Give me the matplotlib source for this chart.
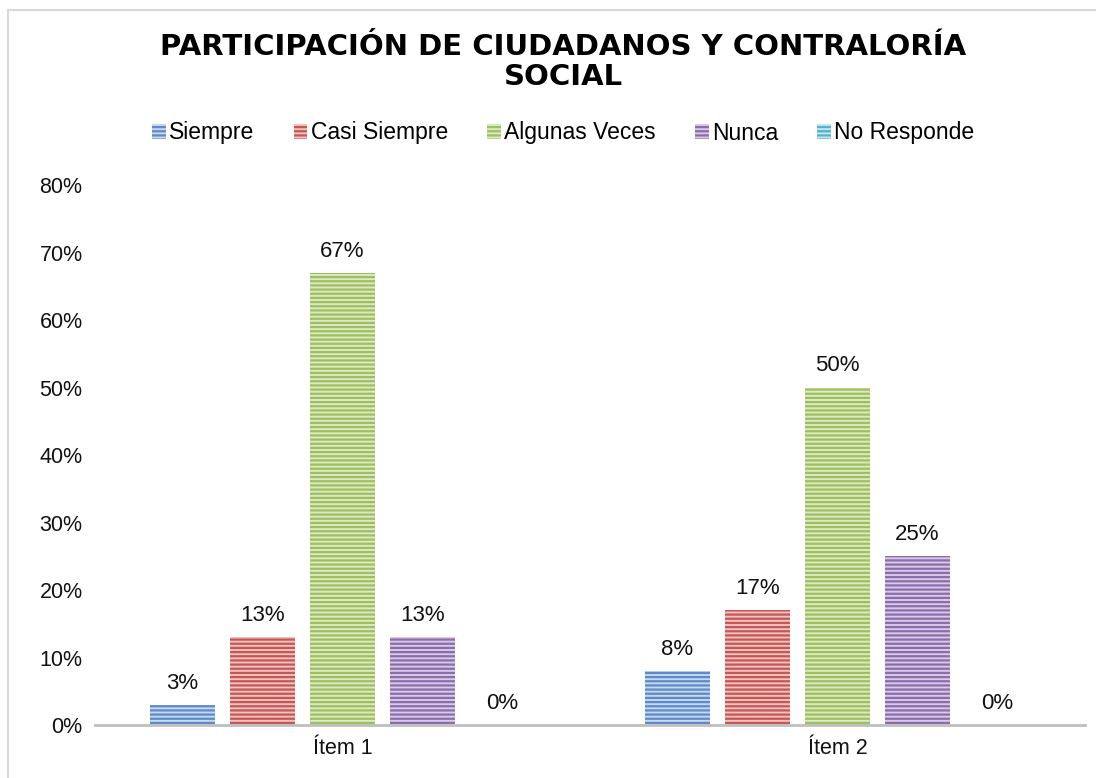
import matplotlib.pyplot as plt
from matplotlib.patches import Patch
from matplotlib.lines import Line2D
import numpy as np

plt.rcParams['font.family'] = ['Liberation Sans', 'DejaVu Sans']
plt.rcParams['hatch.linewidth'] = 1.6

# data
items = ["Ítem 1", "Ítem 2"]
series = ["Siempre", "Casi Siempre", "Algunas Veces", "Nunca", "No Responde"]
values = [
    [0.03, 0.08],
    [0.13, 0.17],
    [0.67, 0.50],
    [0.13, 0.25],
    [0.00, 0.00],
]
faces = ["#C9D8EC", "#EDC4C3", "#DDE9C6", "#D6CCE3", "#C8E6EF"]
hatches = ["#5B8BCB", "#C85652", "#9DC05C", "#8C6BB0", "#4FB2CE"]

fig = plt.figure(figsize=(10.96, 7.78), dpi=100)
ax = fig.add_axes([0.0867, 0.0681, 0.9033, 0.694])

# chart border (only top and left edges are inside the picture)
W, H = 1096, 778
fig.add_artist(Line2D([8 / W, 8 / W], [0, 1 - 10 / H], color="#D9D9D9", lw=1.5))
fig.add_artist(Line2D([8 / W, 1], [1 - 10 / H, 1 - 10 / H], color="#D9D9D9", lw=1.5))

x = np.arange(len(items))
step = 0.1616
width = 0.133
for i, name in enumerate(series):
    pos = x + (i - 2) * step
    bars = ax.bar(pos, values[i], width, color=faces[i], edgecolor=hatches[i],
                  hatch="----", linewidth=0, label=name)
    for b, v in zip(bars, values[i]):
        ax.annotate(f"{v:.0%}", (b.get_x() + b.get_width() / 2, v),
                    xytext=(0, 8), textcoords="offset points",
                    ha="center", va="bottom", fontsize=16, color="#111111")

ax.set_xlim(-0.5, 1.5)
ax.set_ylim(0, 0.8)
ticks = np.arange(0, 0.81, 0.1)
ax.set_yticks(ticks)
ax.set_yticklabels([f"{int(round(t * 100))}%" for t in ticks])
ax.set_xticks(x)
ax.set_xticklabels(items)
ax.tick_params(length=0, labelsize=15.5, colors="#111111", pad=9)
for s in ["top", "right", "left"]:
    ax.spines[s].set_visible(False)
ax.spines["bottom"].set_color("#BFBFBF")
ax.spines["bottom"].set_linewidth(2)

fig.text(0.514, 1 - 62 / H, "PARTICIPACIÓN DE CIUDADANOS Y CONTRALORÍA\nSOCIAL",
         ha="center", va="center", fontsize=21, fontweight="bold",
         family="DejaVu Sans", color="#000000", linespacing=1.1)

handles = [Patch(facecolor=faces[i], edgecolor=hatches[i], hatch="----",
                 linewidth=0, label=series[i]) for i in range(len(series))]
fig.legend(handles=handles, loc="center", bbox_to_anchor=(0.514, 1 - 133 / H),
           ncol=5, frameon=False, fontsize=16.5, handlelength=0.6,
           handleheight=0.6, handletextpad=0.15, columnspacing=1.7)

fig.savefig("out.png", dpi=100)
